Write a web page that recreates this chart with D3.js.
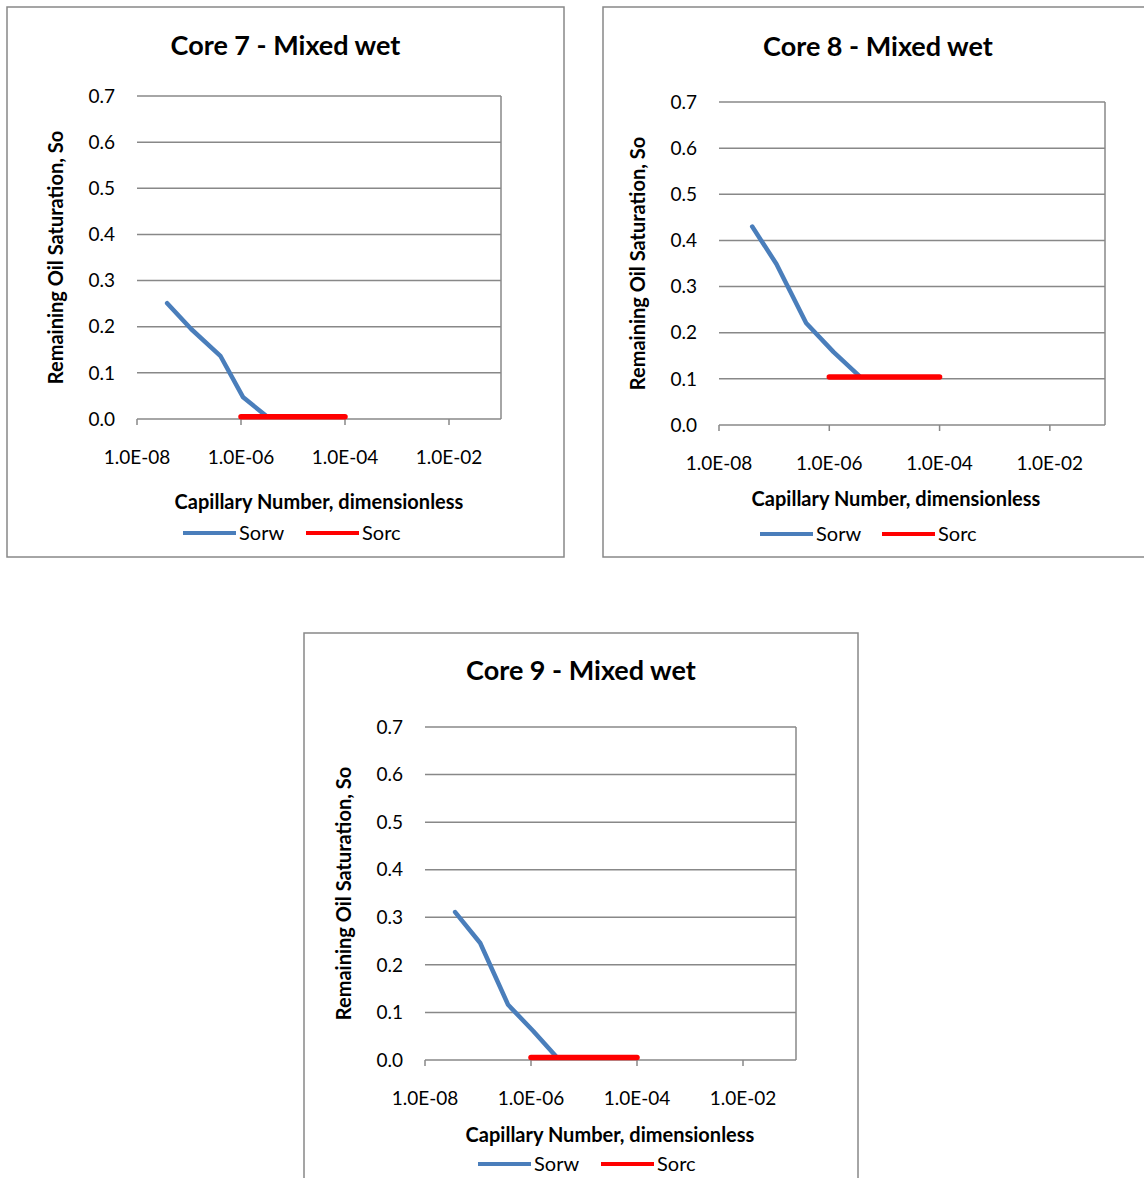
<!DOCTYPE html>
<meta charset="utf-8">
<style>
body { margin: 0; background: #fff; }
svg { display: block; font-family: Lato, "Open Sans", sans-serif; }
.grid line, .frame { stroke: #888; stroke-width: 1.5px; }
.box { fill: none; stroke: #888; stroke-width: 1.5px; }
.tick-label { font-size: 19px; fill: #000; }
.title { font-size: 27px; font-weight: bold; text-anchor: middle; }
.axis-title { font-size: 20px; font-weight: bold; text-anchor: middle; }
.legend { font-size: 20px; }
</style>
<svg width="1144" height="1178"></svg>
<script src="https://d3js.org/d3.v7.min.js"></script>
<script>

// values
var titles = ["Core 7 - Mixed wet", "Core 8 - Mixed wet", "Core 9 - Mixed wet"];
var seriesNames = ["Sorw", "Sorc"];
var yTicks = [0, 0.1, 0.2, 0.3, 0.4, 0.5, 0.6, 0.7];
var xTicks = [1e-8, 1e-6, 1e-4, 1e-2];

var core7SorwX = [3.8e-8, 1.1e-7, 4.0e-7, 1.1e-6, 3.2e-6];
var core7SorwY = [0.251, 0.195, 0.137, 0.047, 0.005];
var core7SorcX = [1e-6, 1e-5, 1e-4];
var core7SorcY = [0.005, 0.005, 0.005];

var core8SorwX = [4.0e-8, 1.1e-7, 3.8e-7, 1.2e-6, 3.6e-6];
var core8SorwY = [0.430, 0.349, 0.221, 0.158, 0.105];
var core8SorcX = [1e-6, 1e-5, 1e-4];
var core8SorcY = [0.104, 0.104, 0.104];

var core9SorwX = [3.7e-8, 1.1e-7, 3.7e-7, 1.1e-6, 3.1e-6];
var core9SorwY = [0.311, 0.246, 0.116, 0.061, 0.005];
var core9SorcX = [1e-6, 1e-5, 1e-4];
var core9SorcY = [0.005, 0.005, 0.005];

var colors = ["#4a7ebb", "#ff0000"];

// where each panel sits on the page
var panels = [
  { box: [7, 7, 557, 550], plot: [137, 501, 96, 419], titleY: 55, xTitle: [319, 509], legend: [183, 306, 533],
    sorw: [core7SorwX, core7SorwY], sorc: [core7SorcX, core7SorcY] },
  { box: [603, 7, 550, 550], plot: [719, 1105, 102, 425], titleY: 56, xTitle: [896, 506], legend: [760, 882, 534],
    sorw: [core8SorwX, core8SorwY], sorc: [core8SorcX, core8SorcY] },
  { box: [304, 633, 554, 550], plot: [425, 796, 727, 1060], titleY: 680, xTitle: [610, 1142], legend: [478, 601, 1164],
    sorw: [core9SorwX, core9SorwY], sorc: [core9SorcX, core9SorcY] }
];

var svg = d3.select("svg");

panels.forEach(function(p, i) {
  var g = svg.append("g");

  g.append("rect").attr("class", "box")
      .attr("x", p.box[0]).attr("y", p.box[1])
      .attr("width", p.box[2]).attr("height", p.box[3]);

  var x = d3.scaleLog().domain([1e-8, 1e-1]).range([p.plot[0], p.plot[1]]);
  var y = d3.scaleLinear().domain([0, 0.7]).range([p.plot[3], p.plot[2]]);

  // horizontal gridlines
  g.append("g").attr("class", "grid")
    .selectAll("line")
    .data(yTicks)
    .enter().append("line")
      .attr("x1", x.range()[0]).attr("x2", x.range()[1])
      .attr("y1", function(d) { return y(d); }).attr("y2", function(d) { return y(d); });

  g.append("line").attr("class", "frame")
      .attr("x1", x.range()[1]).attr("x2", x.range()[1])
      .attr("y1", y(0)).attr("y2", y(0.7));

  // y tick labels
  g.selectAll(".ylab")
    .data(yTicks)
    .enter().append("text")
      .attr("class", "tick-label")
      .attr("x", x.range()[0] - 22)
      .attr("y", function(d) { return y(d); })
      .attr("dy", "0.35em")
      .attr("text-anchor", "end")
      .text(function(d) { return d3.format(".1f")(d); });

  // x ticks
  g.selectAll(".xtick")
    .data(xTicks)
    .enter().append("line")
      .attr("class", "frame")
      .attr("x1", function(d) { return x(d); }).attr("x2", function(d) { return x(d); })
      .attr("y1", y(0)).attr("y2", y(0) + 6);

  g.selectAll(".xlab")
    .data(xTicks)
    .enter().append("text")
      .attr("class", "tick-label")
      .attr("x", function(d) { return x(d); })
      .attr("y", y(0) + 45)
      .attr("text-anchor", "middle")
      .text(function(d) { return d.toExponential(1).toUpperCase().replace(/E-(\d)$/, "E-0$1"); });

  g.append("text").attr("class", "title")
      .attr("x", p.box[0] + p.box[2] / 2).attr("y", p.titleY)
      .text(titles[i]);

  g.append("text").attr("class", "axis-title")
      .attr("x", p.xTitle[0]).attr("y", p.xTitle[1])
      .text("Capillary Number, dimensionless");

  var cy = (y(0) + y(0.7)) / 2;
  g.append("text").attr("class", "axis-title")
      .attr("transform", "translate(" + (x.range()[0] - 81) + "," + cy + ") rotate(-90)")
      .attr("dy", "0.35em")
      .text("Remaining Oil Saturation, So");

  var line = d3.line()
      .x(function(d) { return x(d[0]); })
      .y(function(d) { return y(d[1]); });

  g.append("path")
      .datum(d3.zip(p.sorw[0], p.sorw[1]))
      .attr("fill", "none").attr("stroke", colors[0])
      .attr("stroke-width", 4.5).attr("stroke-linejoin", "round").attr("stroke-linecap", "round")
      .attr("d", line);

  g.append("path")
      .datum(d3.zip(p.sorc[0], p.sorc[1]))
      .attr("fill", "none").attr("stroke", colors[1])
      .attr("stroke-width", 5.5).attr("stroke-linejoin", "round").attr("stroke-linecap", "round")
      .attr("d", line);

  // legend
  seriesNames.forEach(function(name, k) {
    var lx = p.legend[k];
    g.append("line")
        .attr("x1", lx).attr("x2", lx + 53)
        .attr("y1", p.legend[2]).attr("y2", p.legend[2])
        .attr("stroke", colors[k]).attr("stroke-width", 4);
    g.append("text").attr("class", "legend")
        .attr("x", lx + 56).attr("y", p.legend[2])
        .attr("dy", "0.35em")
        .text(name);
  });
});

</script>
